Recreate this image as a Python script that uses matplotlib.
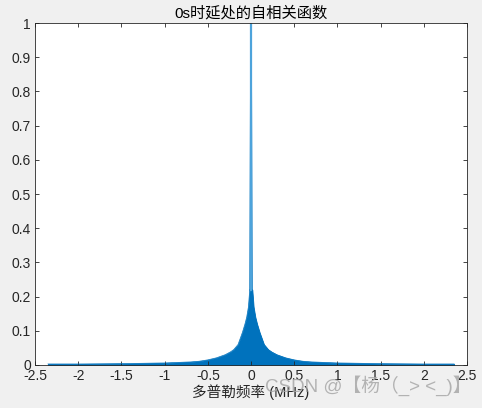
import numpy as np
import matplotlib.pyplot as plt

plt.rcParams['font.family'] = ['Liberation Sans', 'Noto Sans CJK SC', 'DejaVu Sans']

# envelope of the autocorrelation, MHz vs normalised amplitude
env_x = [-2.35, -2.0, -1.5, -1.0, -0.7, -0.6, -0.5, -0.4, -0.3, -0.24, -0.2, -0.15,
         -0.1, -0.07, -0.05, -0.03, -0.015,
         0.015, 0.03, 0.05, 0.07, 0.1, 0.15, 0.2, 0.24, 0.3, 0.4, 0.5, 0.6, 0.7,
         1.0, 1.5, 2.0, 2.35]
env_upper = [0.003, 0.003, 0.004, 0.006, 0.009, 0.011, 0.015, 0.021, 0.03, 0.038, 0.045, 0.06,
             0.095, 0.12, 0.14, 0.17, 0.22,
             0.22, 0.17, 0.14, 0.12, 0.095, 0.06, 0.045, 0.038, 0.03, 0.021, 0.015, 0.011, 0.009,
             0.006, 0.004, 0.003, 0.003]

# central spike
peak_x = [-0.012, -0.004, 0.0, 0.004, 0.012]
peak_y = [0.22, 0.77, 1.0, 0.77, 0.22]

fig = plt.figure(figsize=(4.82, 4.08), dpi=100, facecolor='#f0f0f0')
ax = fig.add_axes([0.0726, 0.1054, 0.8964, 0.8382])

ax.fill_between(env_x, 0, env_upper, color='#0072BD', linewidth=0.6, edgecolor='#0072BD')
ax.plot(env_x, env_upper, color='#0072BD', linewidth=0.5)
ax.plot(peak_x, peak_y, color='#0072BD', linewidth=1.0)
ax.plot([0, 0], [0.22, 1.0], color='#4DA3DB', linewidth=1.6)

ax.set_xlim(-2.5, 2.5)
ax.set_ylim(0, 1)
ax.set_xticks(np.arange(-2.5, 2.51, 0.5))
ax.set_xticklabels(['-2.5', '-2', '-1.5', '-1', '-0.5', '0', '0.5', '1', '1.5', '2', '2.5'])
ax.set_yticks(np.arange(0, 1.01, 0.1))
ax.set_yticklabels(['0', '0.1', '0.2', '0.3', '0.4', '0.5', '0.6', '0.7', '0.8', '0.9', '1'])
ax.tick_params(direction='in', top=True, right=True, length=3, width=0.6,
               labelsize=10, colors='#262626', pad=3)
for s in ax.spines.values():
    s.set_linewidth(0.6)
    s.set_color('#262626')

ax.set_title('0s时延处的自相关函数', fontsize=11, color='#000000', pad=4)
ax.set_xlabel('多普勒频率 (MHz)', fontsize=10.5, color='#262626', labelpad=1)

fig.text(0.55, 0.04, 'CSDN @【杨（_> <_)】', fontsize=13.5, color='#a8a8a8', alpha=0.85)

fig.savefig('out.png', dpi=100, facecolor=fig.get_facecolor())
